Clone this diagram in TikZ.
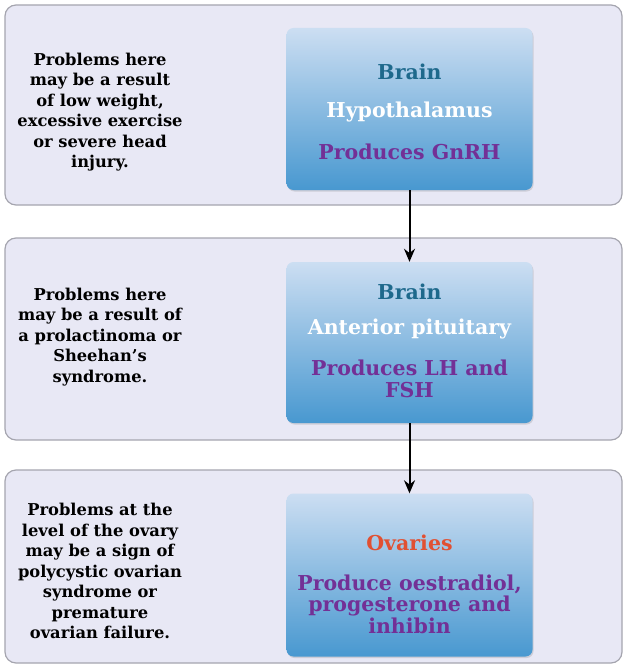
\documentclass[tikz,border=0pt]{standalone}
\usepackage{fontspec}
\setmainfont{DejaVu Serif}
\usetikzlibrary{arrows.meta,shadows}
\definecolor{outerfill}{RGB}{232,232,245}
\definecolor{outerdraw}{RGB}{165,165,175}
\definecolor{innertop}{RGB}{204,222,242}
\definecolor{innerbot}{RGB}{72,152,208}
\definecolor{braincol}{RGB}{30,105,140}
\definecolor{prodcol}{RGB}{115,48,150}
\definecolor{ovcol}{RGB}{225,80,50}
\tikzset{
  outerbox/.style={draw=outerdraw, line width=1.2pt, fill=outerfill, rounded corners=11pt, minimum width=617pt},
  innerbox/.style={rounded corners=7pt, top color=innertop, bottom color=innerbot, draw=none, minimum width=246pt, drop shadow={opacity=0.25,shadow xshift=1pt,shadow yshift=-1.5pt}},
  lefttext/.style={align=center, font=\fontsize{16.3}{20.5}\selectfont\bfseries, text=black},
  intext/.style={align=center, font=\fontsize{20.5}{21.5}\selectfont\bfseries},
  flow/.style={-{Stealth[length=13pt,width=11pt]}, line width=2pt, black}
}
\begin{document}
\begin{tikzpicture}[x=1pt,y=-1pt]
\useasboundingbox (0,0) rectangle (624,666);
% outer boxes
\node[outerbox, minimum height=200pt] (o1) at (313.5,105) {};
\node[outerbox, minimum height=202pt] (o2) at (313.5,339) {};
\node[outerbox, minimum height=193pt] (o3) at (313.5,566.5) {};
% inner boxes
\node[innerbox, minimum height=162pt] (i1) at (409.5,109) {};
\node[innerbox, minimum height=161pt] (i2) at (409.5,342.5) {};
\node[innerbox, minimum height=163pt] (i3) at (409.5,575) {};
% left texts
\node[lefttext] (l1) at (100,112) {Problems here\\may be a result\\of low weight,\\excessive exercise\\or severe head\\injury.};
\node[lefttext] (l2) at (100,337) {Problems here\\may be a result of\\a prolactinoma or\\Sheehan’s\\syndrome.};
\node[lefttext] (l3) at (100,571) {Problems at the\\level of the ovary\\may be a sign of\\polycystic ovarian\\syndrome or\\premature\\ovarian failure.};
% inner texts
\node[intext, text=braincol] (b1) at (409.5,72) {Brain};
\node[intext, text=white] (h1) at (409.5,112) {Hypothalamus};
\node[intext, text=prodcol] (p1) at (409.5,152) {Produces GnRH};
\node[intext, text=braincol] (b2) at (409.5,292) {Brain};
\node[intext, text=white] (h2) at (409.5,329) {Anterior pituitary};
\node[intext, text=prodcol] (p2) at (409.5,379) {Produces LH and\\FSH};
\node[intext, text=ovcol] (b3) at (409.5,543) {Ovaries};
\node[intext, text=prodcol] (p3) at (409.5,604) {Produce oestradiol,\\progesterone and\\inhibin};
% arrows
\draw[flow] (i1.south) -- (i2.north);
\draw[flow] (i2.south) -- (i3.north);
\end{tikzpicture}
\end{document}
